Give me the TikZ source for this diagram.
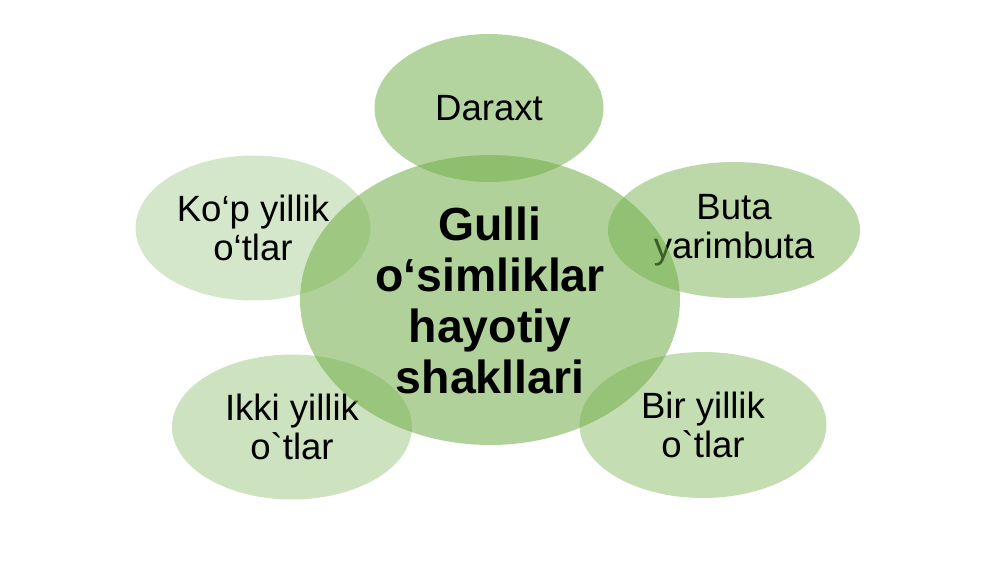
\documentclass[tikz,border=0pt]{standalone}
\usepackage{fontspec}
\setmainfont{Liberation Sans}
\newfontfamily\rawfont{Liberation Sans}
\usetikzlibrary{shapes.geometric}
\definecolor{accgreen}{RGB}{112,173,71}
\tikzset{
  bubble/.style={ellipse, fill=accgreen, draw=none, align=center, inner sep=0pt,
    font=\fontsize{20.8}{22.5}\selectfont},
  hub/.style={ellipse, fill=accgreen, fill opacity=0.55, text opacity=1, draw=none, align=center, inner sep=0pt,
    font=\fontsize{26.4}{29}\selectfont\bfseries}
}
\begin{document}
\begin{tikzpicture}[x=0.02cm,y=-0.02cm]
\useasboundingbox (0,0) rectangle (1000,562);
\node[bubble, fill opacity=0.53, text opacity=1, minimum width=4.58cm, minimum height=2.96cm] (daraxt) at (489,108) {Daraxt};
\node[bubble, fill opacity=0.47, text opacity=1, minimum width=5.04cm, minimum height=2.72cm] (buta) at (734,230) {Buta\\yarimbuta};
\node[bubble, fill opacity=0.41, text opacity=1, minimum width=4.94cm, minimum height=2.92cm] (bir) at (703,425) {Bir yillik\\{\rawfont o`tlar}};
\node[bubble, fill opacity=0.35, text opacity=1, minimum width=4.8cm, minimum height=2.9cm] (ikki) at (292,427) {Ikki yillik\\{\rawfont o`tlar}};
\node[bubble, fill opacity=0.29, text opacity=1, minimum width=4.7cm, minimum height=2.9cm] (kop) at (253,228) {Ko‘p yillik\\o‘tlar};
\node[hub, minimum width=7.6cm, minimum height=5.8cm] (center) at (490,300) {Gulli\\o‘simliklar\\hayotiy\\shakllari};
\end{tikzpicture}
\end{document}
